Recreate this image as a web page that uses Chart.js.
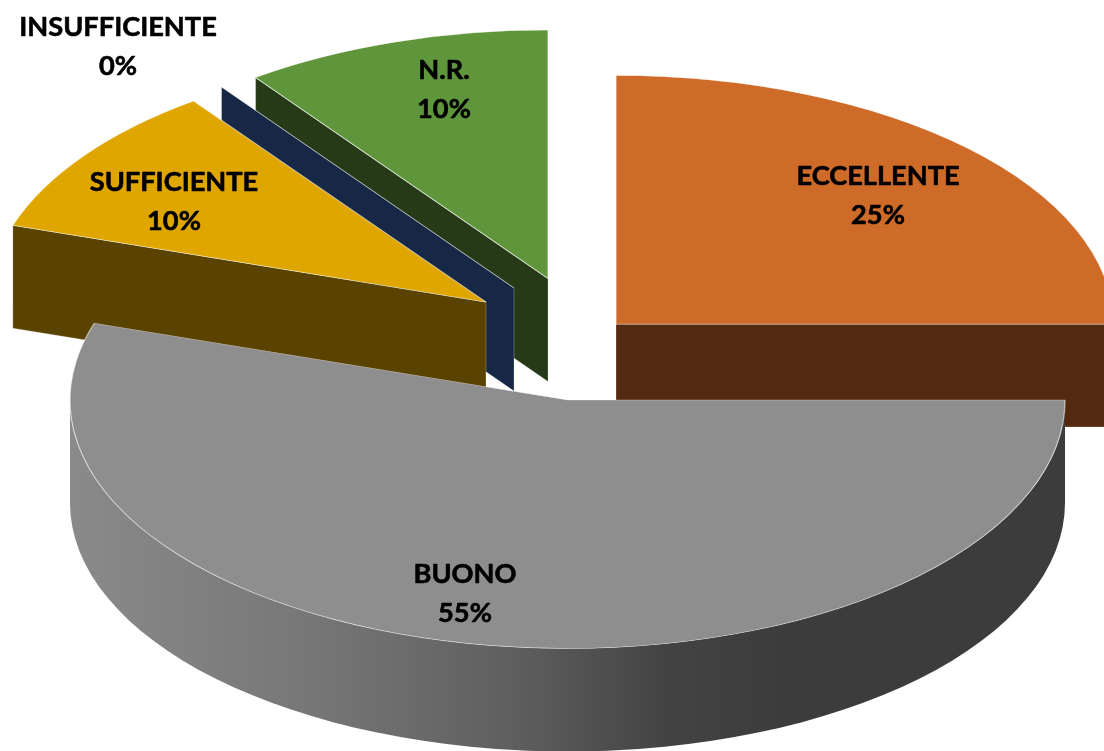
<!DOCTYPE html>
<html>
<head>
<meta charset="utf-8">
<style>html,body{margin:0;padding:0;background:#fff;overflow:hidden}canvas{display:block}</style>
<script src="https://cdn.jsdelivr.net/npm/chart.js@4"></script>
</head>
<body>
<canvas id="c" width="1104" height="751"></canvas>
<script>
const categories = ["ECCELLENTE", "BUONO", "SUFFICIENTE", "INSUFFICIENTE", "N.R."];
const percentages = [25, 55, 10, 0, 10];

const topColors = ["#CF6B28", "#8E8E8E", "#E0A600", "#4472C4", "#5F963C"];
const sideColors = ["#532A10", "#3C3C3C", "#5A4200", "#162845", "#273A17"];
const explodeX = [48.5, 0, -81.5, -53.5, -19.5];
const explodeY = [-76, 0, -98, -112, -121.5];
const labelX = [878, 465, 174, 118, 444];
const labelY = [176.5, 574.5, 182.5, 27.5, 70.5];
const centreX = 567.5, centreY = 400, radiusX = 497.5, radiusY = 248.5, depth = 103;
const rimColor = "rgba(255,255,255,0.55)";

const pie3d = {
  id: "pie3d",
  beforeDatasetsDraw(chart) {
    const ctx = chart.ctx;
    const arcs = chart.getDatasetMeta(0).data;
    const order = arcs.map((_, i) => i).sort((a, b) => explodeY[a] - explodeY[b]);
    order.forEach(i => {
      const arc = arcs[i];
      const cx = centreX + explodeX[i], cy = centreY + explodeY[i];
      const px = a => cx + radiusX * Math.cos(a);
      const py = a => cy + radiusY * Math.sin(a);
      const s = arc.startAngle, e = arc.endAngle;
      const cut = a => {
        ctx.beginPath();
        ctx.moveTo(cx, cy);
        ctx.lineTo(px(a), py(a));
        ctx.lineTo(px(a), py(a) + depth);
        ctx.lineTo(cx, cy + depth);
        ctx.closePath();
        ctx.fillStyle = sideColors[i];
        ctx.fill();
        ctx.strokeStyle = "rgba(255,255,255,0.25)";
        ctx.lineWidth = 1;
        ctx.stroke();
        ctx.beginPath();
        ctx.moveTo(cx, cy);
        ctx.lineTo(px(a), py(a));
        ctx.strokeStyle = rimColor;
        ctx.stroke();
      };
      if (Math.cos(s) < -1e-6) cut(s);
      if (Math.cos(e) > 1e-6) cut(e);
      const a0 = Math.max(s, 0), a1 = Math.min(e, Math.PI);
      if (a1 > a0) {
        const g = ctx.createLinearGradient(cx - radiusX, 0, cx + radiusX, 0);
        g.addColorStop(0, "#8A8A8A");
        g.addColorStop(0.25, "#767676");
        g.addColorStop(0.45, "#5E5E5E");
        g.addColorStop(0.6, "#434343");
        g.addColorStop(0.72, "#3C3C3C");
        g.addColorStop(1, sideColors[i]);
        ctx.beginPath();
        ctx.ellipse(cx, cy, radiusX, radiusY, 0, a0, a1, false);
        ctx.ellipse(cx, cy + depth, radiusX, radiusY, 0, a1, a0, true);
        ctx.closePath();
        ctx.fillStyle = g;
        ctx.fill();
      }
      ctx.save();
      ctx.translate(cx, cy);
      ctx.scale(radiusX / arc.outerRadius, radiusY / arc.outerRadius);
      ctx.translate(-arc.x, -arc.y);
      arc.draw(ctx);
      ctx.restore();
    });
    ctx.fillStyle = "#000";
    ctx.strokeStyle = "#000";
    ctx.lineWidth = 0.6;
    ctx.lineJoin = "round";
    ctx.font = "bold 27.2px Lato";
    ctx.textAlign = "center";
    ctx.textBaseline = "middle";
    categories.forEach((name, i) => {
      const pct = percentages[i] + "%";
      ctx.fillText(name, labelX[i], labelY[i]);
      ctx.strokeText(name, labelX[i], labelY[i]);
      ctx.fillText(pct, labelX[i], labelY[i] + 39);
      ctx.strokeText(pct, labelX[i], labelY[i] + 39);
    });
    return false;
  }
};

new Chart(document.getElementById("c"), {
  type: "pie",
  data: {
    labels: categories,
    datasets: [{
      data: percentages,
      backgroundColor: topColors,
      borderColor: rimColor,
      borderWidth: 1
    }]
  },
  options: {
    responsive: false,
    animation: false,
    layout: { padding: 0 },
    plugins: { legend: { display: false }, tooltip: { enabled: false } }
  },
  plugins: [pie3d]
});
</script>
</body>
</html>
